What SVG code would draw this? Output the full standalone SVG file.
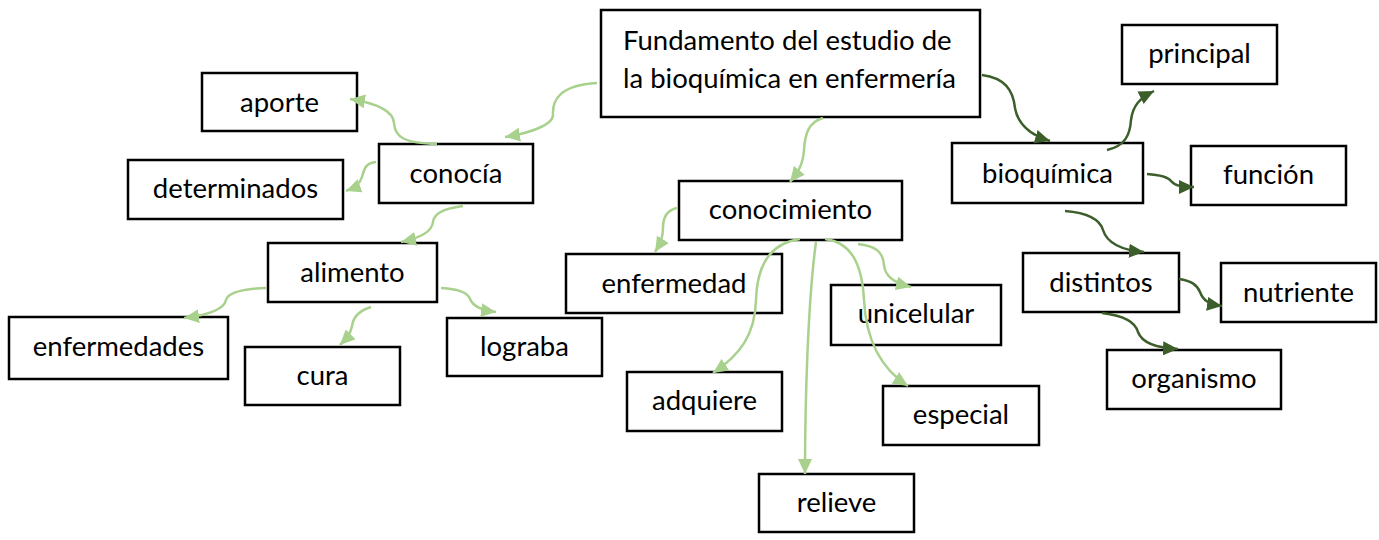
<svg xmlns="http://www.w3.org/2000/svg" width="1379" height="540" viewBox="0 0 1379 540">
<style>
.box{fill:#fff;stroke:#000;stroke-width:2.5}
.t{font-family:Lato,"Open Sans","Liberation Sans",sans-serif;font-size:27.5px;fill:#000;text-anchor:middle}
.tl{text-anchor:start}
.lg{fill:none;stroke:#a9d18e;stroke-width:2.5;marker-end:url(#ahL)}
.dg{fill:none;stroke:#3b5e2b;stroke-width:2.5;marker-end:url(#ahD)}
</style>
<defs>
<marker id="ahL" markerUnits="userSpaceOnUse" markerWidth="16" markerHeight="14" refX="15" refY="7" orient="auto"><path d="M0,0 L15,7 L0,14 z" fill="#a9d18e"/></marker>
<marker id="ahD" markerUnits="userSpaceOnUse" markerWidth="16" markerHeight="14" refX="15" refY="7" orient="auto"><path d="M0,0 L15,7 L0,14 z" fill="#3b5e2b"/></marker>
</defs>
<rect width="1379" height="540" fill="#fff"/>
<g id="n-main"><rect class="box" x="601" y="10" width="379" height="107"/><text class="t tl" x="623" y="50">Fundamento del estudio de</text><text class="t tl" x="623" y="88">la bioquímica en enfermería</text></g>
<g id="n-aporte"><rect class="box" x="202" y="73" width="155" height="58"/><text class="t" x="279.5" y="112">aporte</text></g>
<g id="n-conocia"><rect class="box" x="379" y="144" width="154" height="59"/><text class="t" x="456" y="183">conocía</text></g>
<g id="n-determinados"><rect class="box" x="128" y="160" width="215" height="59"/><text class="t" x="235.5" y="198">determinados</text></g>
<g id="n-alimento"><rect class="box" x="268" y="243" width="169" height="59"/><text class="t" x="352.5" y="282">alimento</text></g>
<g id="n-enfermedades"><rect class="box" x="9" y="317" width="219" height="62"/><text class="t" x="118.5" y="356">enfermedades</text></g>
<g id="n-cura"><rect class="box" x="245" y="347" width="155" height="58"/><text class="t" x="322.5" y="385">cura</text></g>
<g id="n-lograba"><rect class="box" x="447" y="318" width="155" height="58"/><text class="t" x="524.5" y="356">lograba</text></g>
<g id="n-conocimiento"><rect class="box" x="679" y="181" width="223" height="59"/><text class="t" x="790.5" y="219">conocimiento</text></g>
<g id="n-enfermedad"><rect class="box" x="566" y="254" width="216" height="59"/><text class="t" x="674" y="293">enfermedad</text></g>
<g id="n-unicelular"><rect class="box" x="831" y="285" width="170" height="60"/><text class="t" x="916" y="323">unicelular</text></g>
<g id="n-adquiere"><rect class="box" x="627" y="372" width="155" height="59"/><text class="t" x="704.5" y="410">adquiere</text></g>
<g id="n-especial"><rect class="box" x="883" y="386" width="156" height="59"/><text class="t" x="961" y="424">especial</text></g>
<g id="n-relieve"><rect class="box" x="759" y="474" width="155" height="58"/><text class="t" x="836.5" y="512">relieve</text></g>
<g id="n-principal"><rect class="box" x="1122" y="25" width="155" height="59"/><text class="t" x="1199.5" y="63">principal</text></g>
<g id="n-bioquimica"><rect class="box" x="952" y="143" width="191" height="60"/><text class="t" x="1047.5" y="183">bioquímica</text></g>
<g id="n-funcion"><rect class="box" x="1191" y="146" width="155" height="59"/><text class="t" x="1268.5" y="184">función</text></g>
<g id="n-distintos"><rect class="box" x="1023" y="253" width="156" height="59"/><text class="t" x="1101" y="292">distintos</text></g>
<g id="n-nutriente"><rect class="box" x="1221" y="263" width="155" height="59"/><text class="t" x="1298.5" y="302">nutriente</text></g>
<g id="n-organismo"><rect class="box" x="1107" y="350" width="174" height="59"/><text class="t" x="1194" y="388">organismo</text></g>
<g id="connectors">
<path class="lg" d="M597,83 C560,85 552,100 553,115 C553,125 530,133 505,137"/>
<path class="lg" d="M437,144 C405,143 395,138 394,123 C393,110 375,103 350,99"/>
<path class="lg" d="M376,162 C365,163 364,170 362,177 C360,184 354,188 346,191"/>
<path class="lg" d="M463,206 C440,209 434,215 433,222 C432,232 420,238 401,242"/>
<path class="lg" d="M266,288 C240,289 228,293 226,300 C224,310 208,315 184,318"/>
<path class="lg" d="M371,307 C358,311 353,318 352,326 C351,333 347,338 340,345"/>
<path class="lg" d="M441,288 C460,289 468,293 470,299 C473,306 480,310 496,312"/>
<path class="lg" d="M823,118 C808,122 805,135 804,150 C803,165 798,172 790,182"/>
<path class="lg" d="M677,208 C667,210 663,218 663,228 C663,238 660,244 655,252"/>
<path class="lg" d="M800,239 C770,243 757,265 756,300 C755,335 740,355 713,373"/>
<path class="lg" d="M816,242 C808,300 805,400 805,474"/>
<path class="lg" d="M825,239 C850,242 862,262 864,300 C866,340 880,368 908,386"/>
<path class="lg" d="M858,244 C876,246 883,252 884,265 C885,277 895,283 911,287"/>
<path class="dg" d="M982,75 C1005,78 1013,90 1015,108 C1018,125 1030,135 1050,141"/>
<path class="dg" d="M1107,150 C1125,146 1130,135 1131,120 C1133,105 1140,98 1154,91"/>
<path class="dg" d="M1147,174 C1162,175 1168,177 1171,181 C1175,186 1182,187 1194,187"/>
<path class="dg" d="M1065,211 C1090,213 1100,220 1103,230 C1107,243 1120,250 1144,252"/>
<path class="dg" d="M1179,279 C1192,281 1197,285 1200,292 C1203,300 1208,304 1222,306"/>
<path class="dg" d="M1102,313 C1125,316 1135,322 1138,332 C1142,343 1157,348 1178,349"/>
</g>
</svg>
